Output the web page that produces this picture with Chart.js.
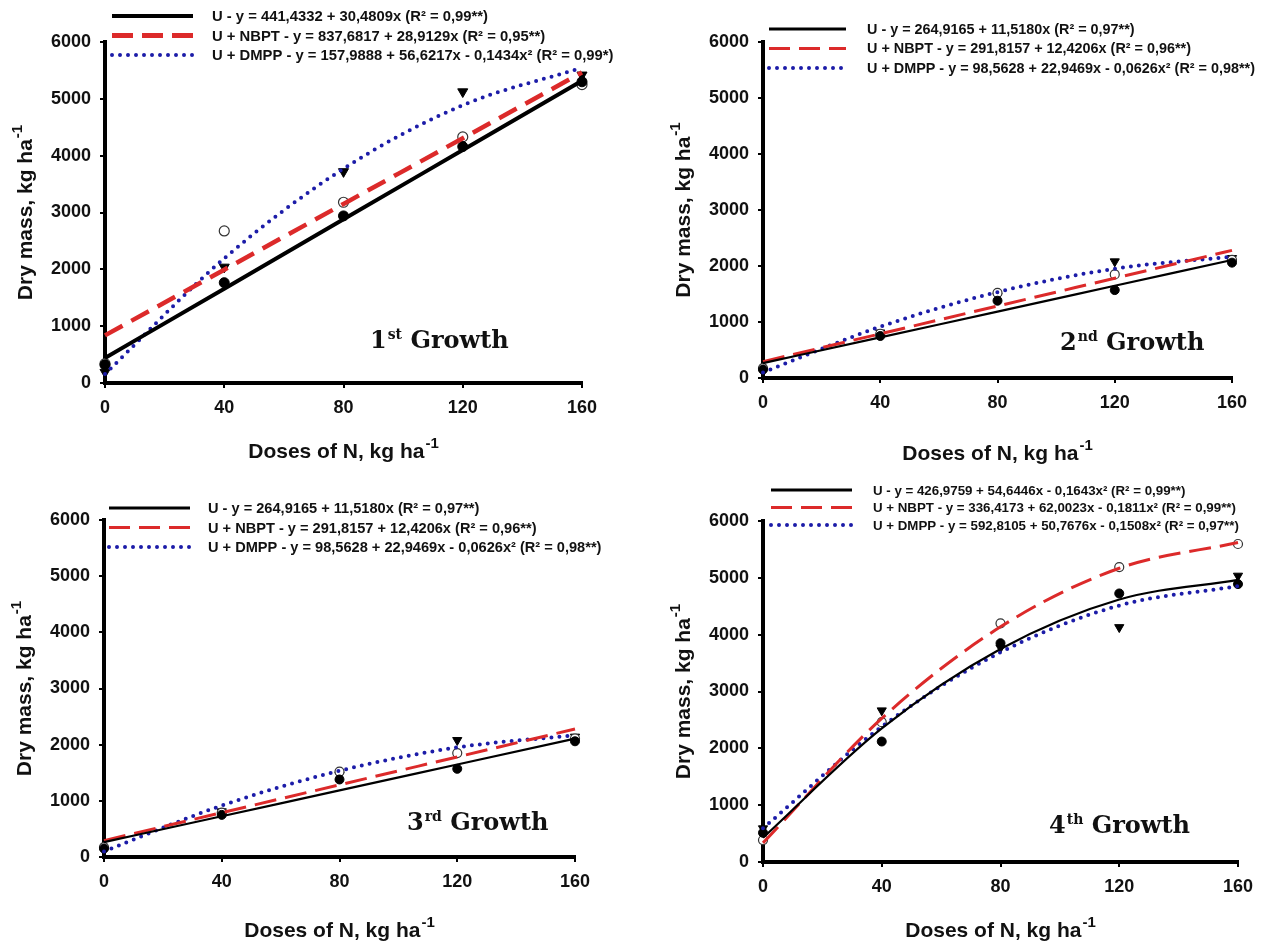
<!DOCTYPE html>
<html>
<head>
<meta charset="utf-8">
<script src="https://cdn.jsdelivr.net/npm/chart.js@4.4.1/dist/chart.umd.min.js"></script>
<style>
  body { margin: 0; background: #fff; }
  #wrap { position: relative; width: 1266px; height: 942px; overflow: hidden; }
  #wrap canvas { position: absolute; }
</style>
</head>
<body>
<div id="wrap">
  <canvas id="g1" width="633" height="470" style="left:0;top:0"></canvas>
  <canvas id="g2" width="633" height="470" style="left:633px;top:0"></canvas>
  <canvas id="g3" width="633" height="472" style="left:0;top:470px"></canvas>
  <canvas id="g4" width="633" height="472" style="left:633px;top:470px"></canvas>
</div>
<script>
const doses = [0, 40, 80, 120, 160]
const doseTicks = [0, 40, 80, 120, 160]
const massTicks = [0, 1000, 2000, 3000, 4000, 5000, 6000]

// 1st growth: measured means and fitted curves
const g1U = [320, 1765, 2940, 4160, 5300]
const g1Nbpt = [340, 2675, 3180, 4330, 5250]
const g1Dmpp = [190, 2040, 3720, 5125, 5420]
const g1UFit = [441, 1660, 2880, 4099, 5318]
const g1NbptFit = [838, 1994, 3151, 4307, 5464]
const g1DmppFit = [158, 2193, 3770, 4888, 5546]
const g1Legend = [
  'U - y = 441,4332 + 30,4809x (R² = 0,99**)',
  'U + NBPT - y = 837,6817 + 28,9129x (R² = 0,95**)',
  'U + DMPP - y = 157,9888 + 56,6217x - 0,1434x² (R² = 0,99*)'
]

// 2nd growth
const g2U = [150, 750, 1380, 1570, 2060]
const g2Nbpt = [175, 790, 1520, 1850, 2110]
const g2Dmpp = [130, 810, 1460, 2080, 2140]
const g2UFit = [265, 726, 1186, 1647, 2108]
const g2NbptFit = [292, 789, 1285, 1782, 2279]
const g2DmppFit = [99, 916, 1534, 1951, 2168]
const g2Legend = [
  'U - y = 264,9165 + 11,5180x (R² = 0,97**)',
  'U + NBPT - y = 291,8157 + 12,4206x (R² = 0,96**)',
  'U + DMPP - y = 98,5628 + 22,9469x - 0,0626x² (R² = 0,98**)'
]

// 3rd growth
const g3U = [150, 750, 1380, 1570, 2060]
const g3Nbpt = [175, 790, 1520, 1850, 2110]
const g3Dmpp = [130, 810, 1460, 2080, 2140]
const g3UFit = [265, 726, 1186, 1647, 2108]
const g3NbptFit = [292, 789, 1285, 1782, 2279]
const g3DmppFit = [99, 916, 1534, 1951, 2168]
const g3Legend = [
  'U - y = 264,9165 + 11,5180x (R² = 0,97**)',
  'U + NBPT - y = 291,8157 + 12,4206x (R² = 0,96**)',
  'U + DMPP - y = 98,5628 + 22,9469x - 0,0626x² (R² = 0,98**)'
]

// 4th growth
const g4U = [514, 2120, 3850, 4725, 4890]
const g4Nbpt = [386, 2460, 4200, 5190, 5595]
const g4Dmpp = [590, 2665, 3770, 4130, 5035]
const g4UFit = [427, 2350, 3747, 4618, 4964]
const g4NbptFit = [336, 2527, 4138, 5169, 5621]
const g4DmppFit = [593, 2382, 3689, 4513, 4855]
const g4Legend = [
  'U - y = 426,9759 + 54,6446x - 0,1643x² (R² = 0,99**)',
  'U + NBPT - y = 336,4173 + 62,0023x - 0,1811x² (R² = 0,99**)',
  'U + DMPP - y = 592,8105 + 50,7676x - 0,1508x² (R² = 0,97**)'
]

const SANS = '"Liberation Sans", Arial, sans-serif'
const SERIF = '"DejaVu Serif", "Liberation Serif", serif'
const RED = '#dc2a2a'
const BLUE = '#1c1ca8'

function fitLine(values, color, width, dash, cap) {
  return {
    data: doses.map((x, i) => ({ x: x, y: values[i] })),
    showLine: true,
    borderColor: color,
    borderWidth: width,
    borderDash: dash,
    borderCapStyle: cap || 'butt',
    pointRadius: 0,
    tension: 0.4,
    cubicInterpolationMode: 'monotone',
    order: 0,
    clip: false
  }
}

function marks(values, style, r) {
  const d = {
    data: doses.map((x, i) => ({ x: x, y: values[i] })),
    showLine: false,
    pointRadius: r,
    order: 1,
    clip: false
  }
  if (style == 'filled') {
    d.pointStyle = 'circle'; d.backgroundColor = '#000'; d.borderColor = '#000'; d.borderWidth = 1
  } else if (style == 'open') {
    d.pointStyle = 'circle'; d.backgroundColor = '#fff'; d.borderColor = '#333'; d.borderWidth = 1.2
  } else {
    d.pointStyle = 'triangle'; d.rotation = 180; d.pointRadius = r + 0.8
    d.backgroundColor = '#000'; d.borderColor = '#000'; d.borderWidth = 1
  }
  return d
}

// text with a raised suffix, centred on cx
function drawSup(ctx, cx, y, main, sup, size, supSize, rise) {
  ctx.font = 'bold ' + size + 'px ' + SANS
  const w1 = ctx.measureText(main).width
  ctx.font = 'bold ' + supSize + 'px ' + SANS
  const w2 = ctx.measureText(sup).width
  const x0 = cx - (w1 + w2 + 1) / 2
  ctx.textAlign = 'left'
  ctx.textBaseline = 'alphabetic'
  ctx.font = 'bold ' + size + 'px ' + SANS
  ctx.fillText(main, x0, y)
  ctx.font = 'bold ' + supSize + 'px ' + SANS
  ctx.fillText(sup, x0 + w1 + 1, y - rise)
}

const decor = {
  id: 'decor',
  afterDraw(chart, args, o) {
    const ctx = chart.ctx
    const a = chart.chartArea
    ctx.save()
    ctx.fillStyle = '#111'

    // legend
    const lg = o.legend
    lg.rows.forEach((y, i) => {
      const s = lg.styles[i]
      ctx.beginPath()
      ctx.strokeStyle = s.color
      ctx.lineWidth = s.width
      ctx.lineCap = s.cap || 'butt'
      ctx.setLineDash(s.dash)
      ctx.moveTo(lg.x0, y)
      ctx.lineTo(lg.x1, y)
      ctx.stroke()
      ctx.setLineDash([])
      ctx.font = 'bold ' + lg.size + 'px ' + SANS
      ctx.textAlign = 'left'
      ctx.textBaseline = 'middle'
      ctx.fillText(o.texts[i], lg.tx, y + 1)
    })

    // axis titles
    drawSup(ctx, (a.left + a.right) / 2, o.xTitleY, 'Doses of N, kg ha', '-1', 21, 15, 10)
    ctx.save()
    ctx.translate(a.left - 73, (a.top + a.bottom) / 2)
    ctx.rotate(-Math.PI / 2)
    drawSup(ctx, 0, 0, 'Dry mass, kg ha', '-1', 21, 15, 10)
    ctx.restore()

    // cut label
    const g = o.growth
    ctx.textAlign = 'left'
    ctx.textBaseline = 'alphabetic'
    ctx.font = 'bold 24px ' + SERIF
    ctx.fillText(g.num, g.x, g.y)
    let x = g.x + ctx.measureText(g.num).width + 1
    ctx.font = 'bold 14px ' + SERIF
    ctx.fillText(g.sup, x, g.y - 9)
    x += ctx.measureText(g.sup).width
    ctx.font = 'bold 24px ' + SERIF
    ctx.fillText(' Growth', x, g.y)
    ctx.restore()
  }
}

function axis(min, max, tickList, fit) {
  return {
    type: 'linear',
    min: min,
    max: max,
    afterBuildTicks: s => { s.ticks = tickList.map(v => ({ value: v })) },
    afterFit: fit,
    border: { display: true, color: '#000', width: 4 },
    grid: { display: true, drawOnChartArea: false, drawTicks: true, tickLength: 5, color: '#000', lineWidth: 2 },
    ticks: { font: { family: SANS, size: 18, weight: 'bold' }, color: '#111', padding: 9, maxRotation: 0, callback: v => String(v) }
  }
}

function makePanel(id, box, area, sets, texts, legend, growth, xTitleY, thick) {
  const rad = thick ? 5 : 4.5
  const blackW = thick ? 4 : 2.2
  const redW = thick ? 4.5 : 3
  const redDash = thick ? [20, 10] : [22, 9]
  const datasets = [
    fitLine(sets.uFit, '#000', blackW, []),
    fitLine(sets.nbptFit, RED, redW, redDash),
    fitLine(sets.dmppFit, BLUE, 4, [0, 8], 'round'),
    marks(sets.u, 'filled', rad),
    marks(sets.nbpt, 'open', rad),
    marks(sets.dmpp, 'tri', rad)
  ]
  const rel = v => v - box.top
  const relx = v => v - box.left
  const legendStyles = [
    { color: '#000', width: thick ? 4 : 3, dash: [] },
    { color: RED, width: thick ? 5 : 3, dash: [21, 9] },
    { color: BLUE, width: 4, dash: [0, 8], cap: 'round' }
  ]
  new Chart(document.getElementById(id), {
    type: 'scatter',
    data: { datasets: datasets },
    options: {
      responsive: false,
      animation: false,
      devicePixelRatio: 1,
      layout: {
        padding: {
          left: area.l - box.left - 60,
          right: box.left + box.w - area.r,
          top: area.t - box.top,
          bottom: box.top + box.h - area.b - 40
        }
      },
      scales: {
        x: axis(0, 160, doseTicks, s => { s.height = 40 }),
        y: axis(0, 6000, massTicks, s => { s.width = 60 })
      },
      plugins: {
        legend: { display: false },
        tooltip: { enabled: false },
        decor: {
          texts: texts,
          legend: {
            x0: relx(legend.x0), x1: relx(legend.x1), tx: relx(legend.tx),
            rows: legend.rows.map(rel), size: legend.size, styles: legendStyles
          },
          growth: { num: growth.num, sup: growth.sup, x: relx(growth.x), y: rel(growth.y) },
          xTitleY: rel(xTitleY)
        }
      }
    },
    plugins: [decor]
  })
}

makePanel('g1', { left: 0, top: 0, w: 633, h: 470 }, { l: 105, r: 582, t: 42, b: 383 },
  { u: g1U, nbpt: g1Nbpt, dmpp: g1Dmpp, uFit: g1UFit, nbptFit: g1NbptFit, dmppFit: g1DmppFit },
  g1Legend, { x0: 112, x1: 193, tx: 212, rows: [16, 35.5, 55], size: 14.8 },
  { num: '1', sup: 'st', x: 370, y: 348 }, 458, true)

makePanel('g2', { left: 633, top: 0, w: 633, h: 470 }, { l: 763, r: 1232, t: 42, b: 378 },
  { u: g2U, nbpt: g2Nbpt, dmpp: g2Dmpp, uFit: g2UFit, nbptFit: g2NbptFit, dmppFit: g2DmppFit },
  g2Legend, { x0: 769, x1: 846, tx: 867, rows: [29, 48.5, 68], size: 14.4 },
  { num: '2', sup: 'nd', x: 1060, y: 350 }, 460, false)

makePanel('g3', { left: 0, top: 470, w: 633, h: 472 }, { l: 104, r: 575, t: 520, b: 857 },
  { u: g3U, nbpt: g3Nbpt, dmpp: g3Dmpp, uFit: g3UFit, nbptFit: g3NbptFit, dmppFit: g3DmppFit },
  g3Legend, { x0: 109, x1: 190, tx: 208, rows: [508, 527.5, 547], size: 14.6 },
  { num: '3', sup: 'rd', x: 407, y: 830 }, 937, false)

makePanel('g4', { left: 633, top: 470, w: 633, h: 472 }, { l: 763, r: 1238, t: 521, b: 862 },
  { u: g4U, nbpt: g4Nbpt, dmpp: g4Dmpp, uFit: g4UFit, nbptFit: g4NbptFit, dmppFit: g4DmppFit },
  g4Legend, { x0: 771, x1: 852, tx: 873, rows: [490, 507.5, 525], size: 13.3 },
  { num: '4', sup: 'th', x: 1049, y: 833 }, 937, false)
</script>
</body>
</html>
